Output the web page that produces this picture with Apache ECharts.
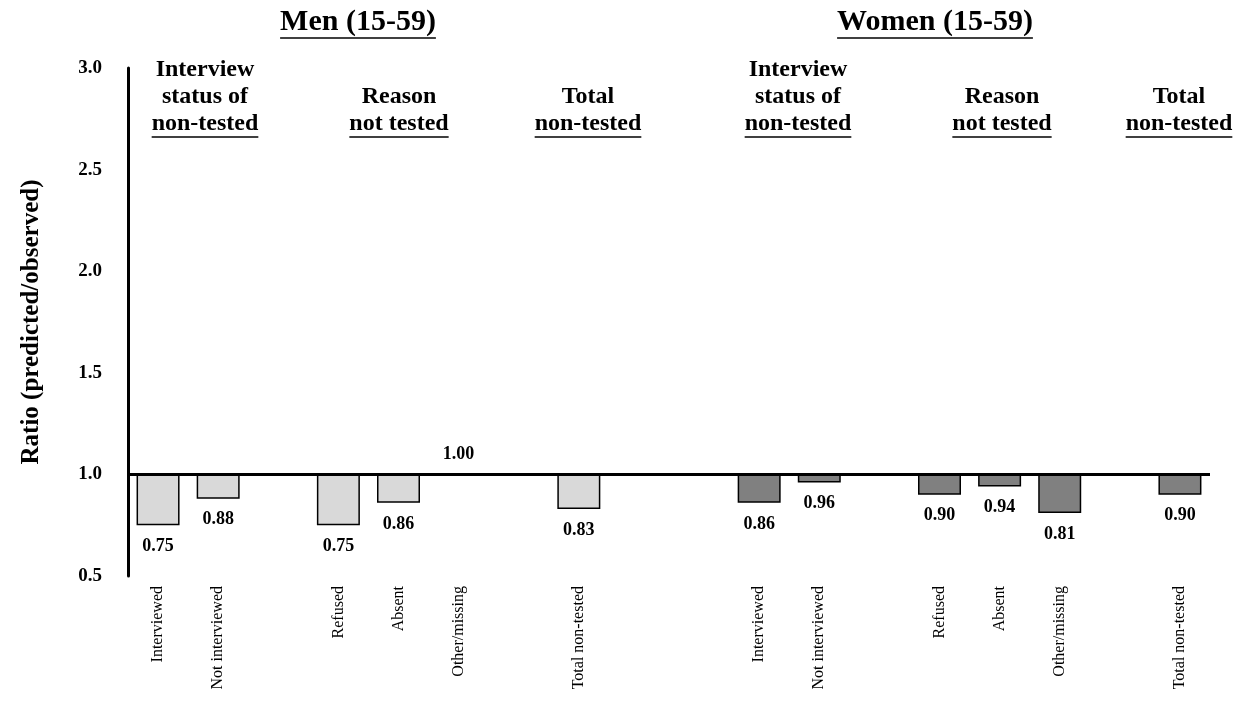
<!DOCTYPE html>
<html>
<head>
<meta charset="utf-8">
<script src="https://cdn.jsdelivr.net/npm/echarts@6/dist/echarts.min.js"></script>
<style>html,body{margin:0;padding:0;background:#fff}#c{width:1244px;height:703px}</style>
</head>
<body>
<div id="c"></div>
<script>
const categories = ['Interviewed','Not interviewed','','Refused','Absent','Other/missing','','Total non-tested','','',
                    'Interviewed','Not interviewed','','Refused','Absent','Other/missing','','Total non-tested'];
const menValues   = [0.75,0.88,null,0.75,0.86,1.00,null,0.83,null,null,null,null,null,null,null,null,null,null];
const womenValues = [null,null,null,null,null,null,null,null,null,null,0.86,0.96,null,0.90,0.94,0.81,null,0.90];
const yTicks = [0.5,1.0,1.5,2.0,2.5,3.0];
const baseline = 1.0;

const SERIF = '"Liberation Serif", "Times New Roman", serif';

function diffData(vals){
  return vals.map(v => {
    if (v == null) return null;
    const d = +(baseline - v).toFixed(4);
    if (d === 0) return {value: 0, label: {position: 'top', distance: 10}};
    return d;
  });
}
const baseData = categories.map((_, i) => menValues[i] != null ? menValues[i] : (womenValues[i] != null ? womenValues[i] : null));

const chart = echarts.init(document.getElementById('c'), null, {renderer: 'canvas'});

const ctx = document.createElement('canvas').getContext('2d');
function textW(str, size){ ctx.font = 'bold ' + size + 'px ' + SERIF; return ctx.measureText(str).width; }

const graphics = [];
function block(cx, lines, firstY, lineH, size){
  lines.forEach((t, i) => {
    graphics.push({type:'text', x: cx, y: firstY + i*lineH,
      style:{text: t, align:'center', verticalAlign:'middle',
             fontFamily: SERIF, fontWeight: 'bold', fontSize: size, fill:'#000'}});
  });
  const last = lines[lines.length-1];
  const w = textW(last, size);
  const uy = firstY + (lines.length-1)*lineH + size*0.5 + 1;
  graphics.push({type:'line', shape:{x1: cx - w/2, y1: uy, x2: cx + w/2, y2: uy}, style:{stroke:'#000', lineWidth: 1.5}});
}
block(358, ['Men (15-59)'], 22, 0, 30);
block(935, ['Women (15-59)'], 22, 0, 30);
block(205, ['Interview','status of','non-tested'], 70, 27, 24);
block(399, ['Reason','not tested'], 97, 27, 24);
block(588, ['Total','non-tested'], 97, 27, 24);
block(798, ['Interview','status of','non-tested'], 70, 27, 24);
block(1002, ['Reason','not tested'], 97, 27, 24);
block(1179, ['Total','non-tested'], 97, 27, 24);

const labelStyle = (vals) => ({
  show: true, position: 'bottom', distance: 12,
  fontFamily: SERIF, fontWeight: 'bold', fontSize: 18, color: '#000',
  formatter: p => vals[p.dataIndex] == null ? '' : vals[p.dataIndex].toFixed(2)
});

chart.setOption({
  animation: false,
  backgroundColor: '#fff',
  grid: {left: 128, right: 34, top: 68, bottom: 127, containLabel: false},
  xAxis: {
    type: 'category', data: categories,
    axisLine: {show: false}, axisTick: {show: false},
    axisLabel: {rotate: 90, interval: 0, margin: 10, fontFamily: SERIF, fontSize: 16, color: '#000'}
  },
  yAxis: {
    type: 'value', min: 0.5, max: 3.0, interval: 0.5,
    name: 'Ratio (predicted/observed)', nameLocation: 'middle', nameGap: 84, nameRotate: 90,
    nameTextStyle: {fontFamily: SERIF, fontWeight: 'bold', fontSize: 25, color: '#000'},
    axisLine: {show: true, lineStyle: {color: '#000', width: 3}},
    axisTick: {show: false}, splitLine: {show: false},
    axisLabel: {margin: 26, fontFamily: SERIF, fontWeight: 'bold', fontSize: 19, color: '#000',
      formatter: v => v.toFixed(1)}
  },
  graphic: graphics,
  series: [
    {type: 'bar', stack: 's', data: baseData, barWidth: 43, silent: true,
     itemStyle: {color: 'transparent'}, emphasis: {disabled: true}},
    {type: 'bar', stack: 's', data: diffData(menValues), barWidth: 43,
     itemStyle: {color: '#d9d9d9', borderColor: '#000', borderWidth: 1.5},
     label: labelStyle(menValues), emphasis: {disabled: true},
     markLine: {silent: true, symbol: 'none', label: {show: false},
       lineStyle: {color: '#000', width: 3, type: 'solid'}, data: [{yAxis: baseline}]}},
    {type: 'bar', stack: 's', data: diffData(womenValues), barWidth: 43,
     itemStyle: {color: '#808080', borderColor: '#000', borderWidth: 1.5},
     label: labelStyle(womenValues), emphasis: {disabled: true}}
  ]
});
</script>
</body>
</html>
